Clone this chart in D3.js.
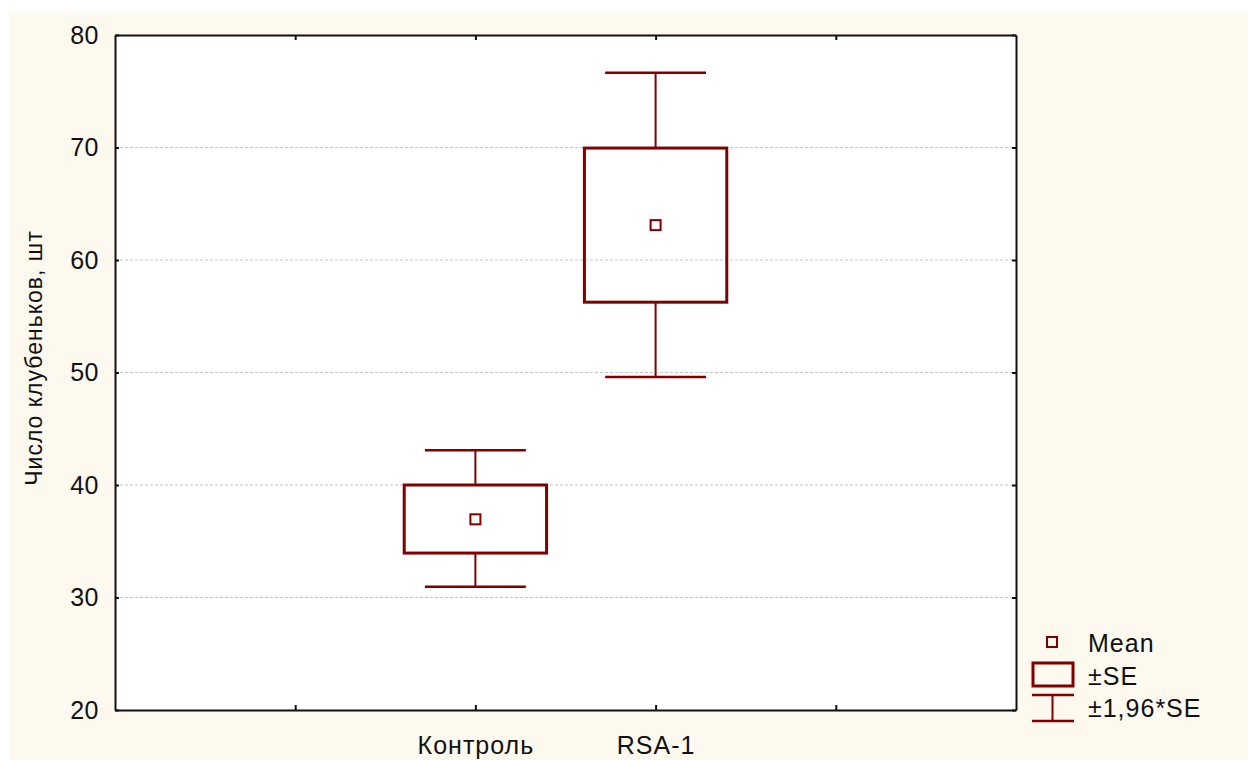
<!DOCTYPE html>
<html>
<head>
<meta charset="utf-8">
<script src="https://cdn.jsdelivr.net/npm/d3@7"></script>
<style>
    body { margin: 0; background: #ffffff; }
    text { font-family: "Liberation Sans", Arial, sans-serif; fill: #111; }
</style>
</head>
<body>
<svg class="chart" width="1248" height="760"></svg>
<script>
// values
var categories = ["Контроль", "RSA-1"];
var means = [36.95, 63.1];
var seLow = [33.95, 56.25];
var seHigh = [40.0, 69.95];
var ciLow = [30.95, 49.6];
var ciHigh = [43.1, 76.65];
var yTicks = [20, 30, 40, 50, 60, 70, 80];
var legendLabels = ["Mean", "±SE", "±1,96*SE"];

var width = 1248,
    height = 760,
    margin = { top: 35, right: 232, bottom: 50, left: 115 };

var color = "#800000";

var chart = d3.select(".chart");

chart.append("rect")
    .attr("x", 9).attr("y", 13)
    .attr("width", width - 9).attr("height", height - 13)
    .style("fill", "#fdf9ef");

var x = d3.scaleLinear()
    .domain([0, 5])
    .range([margin.left, width - margin.right]);

var y = d3.scaleLinear()
    .domain([20, 80])
    .range([height - margin.bottom, margin.top]);

// plot area
chart.append("rect")
    .attr("x", x(0)).attr("y", y(80))
    .attr("width", x(5) - x(0)).attr("height", y(20) - y(80))
    .style("fill", "#ffffff");

// grid
chart.append("g")
    .selectAll("line")
    .data(yTicks.slice(1, -1))
    .enter()
    .append("line")
    .attr("x1", x(0)).attr("x2", x(5))
    .attr("y1", function (d) { return y(d); })
    .attr("y2", function (d) { return y(d); })
    .style("stroke", "#c4c4c4")
    .style("stroke-width", 1)
    .style("stroke-dasharray", "3,2");

// axes, ticks pointing in
var xTickVals = [1, 2, 3, 4];
function catLabel(v) {
    var i = v - 2;
    return categories[i] !== undefined ? categories[i] : "";
}

var axisLeft = chart.append("g")
    .attr("transform", "translate(" + x(0) + ",0)")
    .call(d3.axisLeft(y).tickValues(yTicks).tickSizeInner(-4).tickSizeOuter(0).tickPadding(16));

var axisRight = chart.append("g")
    .attr("transform", "translate(" + x(5) + ",0)")
    .call(d3.axisRight(y).tickValues(yTicks).tickSizeInner(-4).tickSizeOuter(0).tickFormat(""));

var axisBottom = chart.append("g")
    .attr("transform", "translate(0," + y(20) + ")")
    .call(d3.axisBottom(x).tickValues(xTickVals).tickSizeInner(-5).tickSizeOuter(0).tickPadding(26).tickFormat(catLabel));

var axisTop = chart.append("g")
    .attr("transform", "translate(0," + y(80) + ")")
    .call(d3.axisTop(x).tickValues(xTickVals).tickSizeInner(-5).tickSizeOuter(0).tickFormat(""));

[axisLeft, axisRight, axisBottom, axisTop].forEach(function (g) {
    g.select(".domain").style("stroke", "#111").style("stroke-width", 2);
    g.selectAll(".tick line").style("stroke", "#111").style("stroke-width", 2);
    g.selectAll(".tick text").style("font-size", "25px").style("font-family", "'Liberation Sans', Arial, sans-serif").style("fill", "#111");
});
axisLeft.selectAll(".tick text").style("letter-spacing", "0.5px");
axisBottom.selectAll(".tick text").attr("dy", "0.71em").style("letter-spacing", "1px");

// axis title
chart.append("text")
    .attr("transform", "translate(42,358) rotate(-90)")
    .attr("text-anchor", "middle")
    .style("font-size", "23px")
    .style("letter-spacing", "1px")
    .text("Число клубеньков, шт");

// boxes and whiskers
var groups = categories.map(function (c, i) {
    return { name: c, pos: i + 2, mean: means[i], lo: seLow[i], hi: seHigh[i], cilo: ciLow[i], cihi: ciHigh[i] };
});

var g = chart.append("g");

groups.forEach(function (d) {
    // whisker stems
    g.append("line")
        .attr("x1", x(d.pos)).attr("x2", x(d.pos))
        .attr("y1", y(d.hi)).attr("y2", y(d.cihi))
        .style("stroke", color).style("stroke-width", 2);
    g.append("line")
        .attr("x1", x(d.pos)).attr("x2", x(d.pos))
        .attr("y1", y(d.lo)).attr("y2", y(d.cilo))
        .style("stroke", color).style("stroke-width", 2);
    // caps
    [d.cihi, d.cilo].forEach(function (v) {
        g.append("line")
            .attr("x1", x(d.pos - 0.28)).attr("x2", x(d.pos + 0.28))
            .attr("y1", y(v)).attr("y2", y(v))
            .style("stroke", color).style("stroke-width", 2.5);
    });
    // SE box
    g.append("rect")
        .attr("x", x(d.pos - 0.395))
        .attr("y", y(d.hi))
        .attr("width", x(d.pos + 0.395) - x(d.pos - 0.395))
        .attr("height", y(d.lo) - y(d.hi))
        .style("fill", "none")
        .style("stroke", color)
        .style("stroke-width", 3);
    // mean marker
    g.append("rect")
        .attr("x", x(d.pos) - 5)
        .attr("y", y(d.mean) - 5)
        .attr("width", 10).attr("height", 10)
        .style("fill", "#ffffff")
        .style("stroke", color)
        .style("stroke-width", 2);
});

// legend
var legend = chart.append("g").attr("transform", "translate(1031,630)");

legend.append("rect")
    .attr("x", 16).attr("y", 7)
    .attr("width", 10).attr("height", 10)
    .style("fill", "none").style("stroke", color).style("stroke-width", 2);

legend.append("rect")
    .attr("x", 2).attr("y", 33)
    .attr("width", 40).attr("height", 23)
    .style("fill", "none").style("stroke", color).style("stroke-width", 3);

legend.append("line").attr("x1", 1).attr("x2", 43).attr("y1", 65).attr("y2", 65)
    .style("stroke", color).style("stroke-width", 2.5);
legend.append("line").attr("x1", 1).attr("x2", 43).attr("y1", 91).attr("y2", 91)
    .style("stroke", color).style("stroke-width", 2.5);
legend.append("line").attr("x1", 21.5).attr("x2", 21.5).attr("y1", 65).attr("y2", 91)
    .style("stroke", color).style("stroke-width", 2);

legend.selectAll(".legend-label")
    .data(legendLabels)
    .enter()
    .append("text")
    .attr("class", "legend-label")
    .attr("x", 57)
    .attr("y", function (d, i) { return 22 + i * 32.5; })
    .style("font-size", "25px")
    .style("letter-spacing", "1px")
    .text(function (d) { return d; });
</script>
</body>
</html>
